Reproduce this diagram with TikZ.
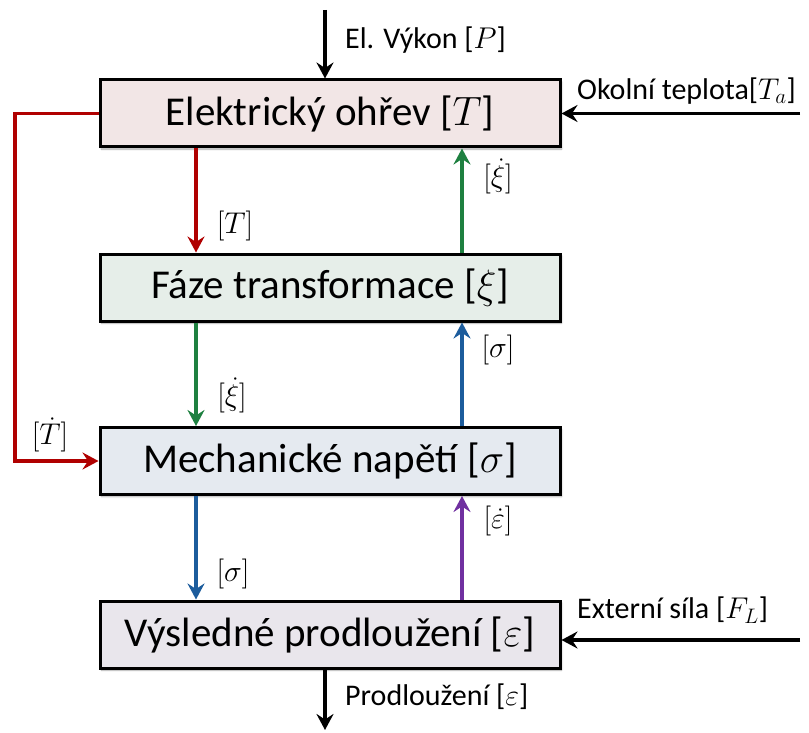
\RequirePackage{fix-cm}
\documentclass[tikz,border=0pt]{standalone}
\usepackage{fontspec}
\setmainfont{Carlito}
\usetikzlibrary{arrows.meta,shadows.blur}

\definecolor{heatfill}{RGB}{242,230,230}
\definecolor{phasefill}{RGB}{230,238,233}
\definecolor{stressfill}{RGB}{229,234,240}
\definecolor{strainfill}{RGB}{233,230,236}
\definecolor{cred}{RGB}{176,0,0}
\definecolor{cgreen}{RGB}{30,128,64}
\definecolor{cblue}{RGB}{28,92,156}
\definecolor{cpurple}{RGB}{112,48,160}

\tikzset{
  block/.style={draw=black, line width=3pt, minimum width=460pt, minimum height=67pt,
    inner sep=0pt, font=\fontsize{41}{48}\selectfont,
    blur shadow={shadow xshift=1.5pt, shadow yshift=-2pt, shadow blur steps=6, shadow opacity=35}},
  flow/.style={line width=3.2pt, -{Stealth[length=16pt,width=17pt,inset=5.5pt]}},
  lbl/.style={font=\fontsize{30}{36}\selectfont, inner sep=0pt},
}

\begin{document}
\begin{tikzpicture}[x=1pt,y=-1pt]
\useasboundingbox (0,0) rectangle (809,733);

% the four blocks
\node[block, fill=heatfill]   (heat)   at (330,113.5) {Elektrický ohřev [$T$]};
\node[block, fill=phasefill]  (phase)  at (330,287.5) {Fáze transformace [$\xi$]};
\node[block, fill=stressfill] (stress) at (330,461)   {Mechanické napětí [$\sigma$]};
\node[block, fill=strainfill] (strain) at (330,634.5) {Výsledné prodloužení [$\varepsilon$]};

% columns of the vertical links
\coordinate (lx) at (196,0);
\coordinate (rx) at (462,0);
\coordinate (mx) at (325,0);

% inputs and output
\coordinate (pin)  at (325,10);
\coordinate (tin)  at (800,113.5);
\coordinate (fin)  at (800,640);
\coordinate (eout) at (325,730);
\coordinate (fb)   at (15,0);

\draw[flow] (pin) -- (heat.north -| mx);
\node[lbl, anchor=west] (plbl) at (345,40) {El. Výkon [$P$]};
\draw[flow] (tin) -- (heat.east);
\node[lbl, anchor=west] (tlbl) at (577,91) {Okolní teplota[$T_a$]};
\draw[flow] (fin) -- (fin -| strain.east);
\node[lbl, anchor=west] (flbl) at (577,610) {Externí síla [$F_L$]};
\draw[flow] (strain.south -| mx) -- (eout);
\node[lbl, anchor=west] (elbl) at (345,697) {Prodloužení [$\varepsilon$]};

% downward links
\draw[flow, cred]   (heat.south -| lx)   -- (phase.north -| lx);
\node[lbl] (l1) at (235,226) {$[T]$};
\draw[flow, cgreen] (phase.south -| lx)  -- (stress.north -| lx);
\node[lbl] (l2) at (232,395) {$[\dot\xi]$};
\draw[flow, cblue]  (stress.south -| lx) -- (strain.north -| lx);
\node[lbl] (l3) at (233,574) {$[\sigma]$};

% upward links
\draw[flow, cgreen]  (phase.north -| rx)  -- (heat.south -| rx);
\node[lbl] (r1) at (498,176) {$[\dot\xi]$};
\draw[flow, cblue]   (stress.north -| rx) -- (phase.south -| rx);
\node[lbl] (r2) at (498,350) {$[\sigma]$};
\draw[flow, cpurple] (strain.north -| rx) -- (stress.south -| rx);
\node[lbl] (r3) at (498,521) {$[\dot\varepsilon]$};

% temperature-rate feedback
\draw[flow, cred] (heat.west) -- (heat.west -| fb) -- (stress.west -| fb) -- (stress.west);
\node[lbl] (fblbl) at (50,435) {$[\dot T]$};
\end{tikzpicture}
\end{document}
